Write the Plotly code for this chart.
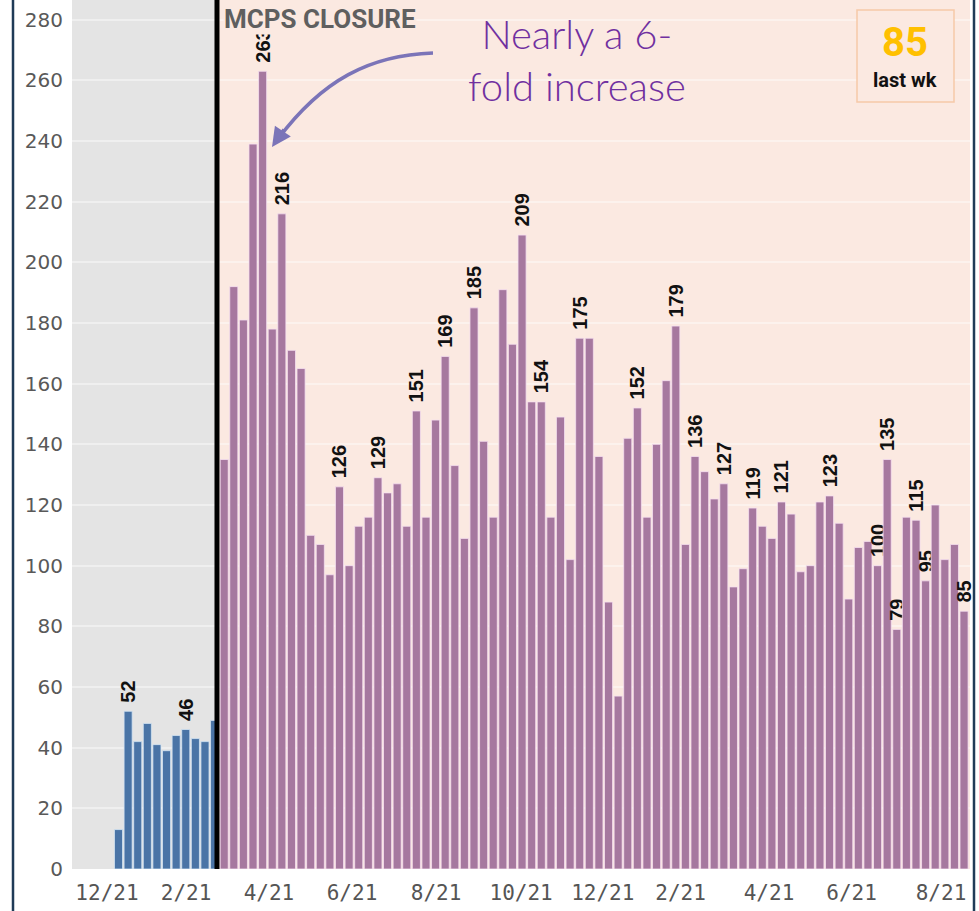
import plotly.graph_objects as go

# ---------------- data ----------------
blue_values = [13, 52, 42, 48, 41, 39, 44, 46, 43, 42, 49]
purple_values = [135, 192, 181, 239, 263, 178, 216, 171, 165, 110,
                 107, 97, 126, 100, 113, 116, 129, 124, 127, 113,
                 151, 116, 148, 169, 133, 109, 185, 141, 116, 191,
                 173, 209, 154, 154, 116, 149, 102, 175, 175, 136,
                 88, 57, 142, 152, 116, 140, 161, 179, 107, 136,
                 131, 122, 127, 93, 99, 119, 113, 109, 121, 117,
                 98, 100, 121, 123, 114, 89, 106, 108, 100, 135,
                 79, 116, 115, 95, 120, 102, 107, 85]
blue_labeled = [1, 7]
purple_labeled = [4, 6, 12, 16, 20, 23, 26, 31, 33, 37, 43, 47, 49, 52, 55,
                  58, 63, 68, 69, 70, 72, 73, 77]
tick_labels = ['12/21', '2/21', '4/21', '6/21', '8/21', '10/21', '12/21',
               '2/21', '4/21', '6/21', '8/21']
tick_pos = [-1.2, 7.03, 15.66, 24.3, 33.05, 41.9, 50.4, 58.5, 67.7, 76.3, 85.6]
last_week = purple_values[-1]

# ---------------- layout constants ----------------
W, H = 979, 911
ML, MR, MT, MB = 72, 9, 0, 42
PW, PH = W - ML - MR, H - MT - MB
X_RANGE = [-4.84, 88.62]
Y_RANGE = [0, 286.5]
closure_x = len(blue_values) - 0.75


def px(x):
    return (x - ML) / PW


def py(y):
    return (H - MB - y) / PH


blue_x = list(range(len(blue_values)))
purple_x = list(range(len(blue_values), len(blue_values) + len(purple_values)))
NB = "\u00a0"
blue_text = [NB + str(v) if i in blue_labeled else "" for i, v in enumerate(blue_values)]
purple_text = [NB + str(v) if i in purple_labeled else "" for i, v in enumerate(purple_values)]

label_font = dict(family="Liberation Sans, Arial, sans-serif", size=20,
                  color="#111111", weight="bold")
cond = "Liberation Sans Narrow, Arial Narrow, Roboto, sans-serif"

fig = go.Figure()
fig.add_trace(go.Bar(
    x=blue_x, y=blue_values, text=blue_text, width=0.84,
    marker=dict(color="#4a74a6", line=dict(color="#d4e4f4", width=0.8)),
    textposition="outside", textangle=-90, textfont=label_font,
    constraintext="none", cliponaxis=False, hoverinfo="x+y",
))
fig.add_trace(go.Bar(
    x=purple_x, y=purple_values, text=purple_text, width=0.84,
    marker=dict(color="#a6789f", line=dict(color="#f6e0f0", width=0.8)),
    textposition="outside", textangle=-90, textfont=label_font,
    constraintext="none", cliponaxis=False, hoverinfo="x+y",
))

shapes = [
    dict(type="rect", xref="x", yref="paper", x0=X_RANGE[0], x1=closure_x,
         y0=0, y1=1, fillcolor="#e4e4e4", line=dict(width=0), layer="below"),
    dict(type="rect", xref="x", yref="paper", x0=closure_x, x1=X_RANGE[1],
         y0=0, y1=1, fillcolor="#fbe9e1", line=dict(width=0), layer="below"),
    dict(type="line", xref="x", yref="paper", x0=closure_x, x1=closure_x,
         y0=0, y1=1, line=dict(color="#000000", width=5), layer="above"),
    # frame borders
    dict(type="line", xref="paper", yref="paper", x0=px(13), x1=px(13),
         y0=py(H), y1=py(0), line=dict(color="#1f3b57", width=2.5)),
    dict(type="line", xref="paper", yref="paper", x0=px(974), x1=px(974),
         y0=py(H), y1=py(0), line=dict(color="#1f3b57", width=2.5)),
    # last week box
    dict(type="rect", xref="paper", yref="paper", x0=px(857), x1=px(954),
         y0=py(102), y1=py(10), fillcolor="#fbe9e1",
         line=dict(color="#f6c9a8", width=1.5), layer="above"),
    # curved arrow
    dict(type="path", xref="paper", yref="paper",
         path=f"M {px(433)},{py(53)} C {px(370)},{py(55)} {px(322)},{py(80)} {px(278)},{py(139)}",
         line=dict(color="#7b74b8", width=3.5), layer="above"),
]

annotations = [
    dict(xref="paper", yref="paper", x=px(223), y=py(3), xanchor="left", yanchor="top",
         text="<b>MCPS CLOSURE</b>", showarrow=False, bgcolor="#fbe9e1", borderpad=0,
         font=dict(family=cond, size=26, color="#5f5f5f")),
    dict(xref="paper", yref="paper", x=px(905), y=py(43), xanchor="center", yanchor="middle",
         text=f"<b>{last_week}</b>", showarrow=False,
         font=dict(family=cond, size=40, color="#ffc000")),
    dict(xref="paper", yref="paper", x=px(905), y=py(80), xanchor="center", yanchor="middle",
         text="<b>last wk</b>", showarrow=False,
         font=dict(family=cond, size=20, color="#111111")),
    dict(xref="paper", yref="paper", x=px(577), y=py(60), xanchor="center", yanchor="middle",
         text="Nearly a 6-<br>fold increase", showarrow=False,
         font=dict(family="Lato, Noto Sans, sans-serif", size=40, color="#7030a0",
                   weight=300)),
    # arrow head
    dict(xref="paper", yref="paper", x=px(272), y=py(147), text="", showarrow=True,
         axref="pixel", ayref="pixel", ax=13, ay=-19, arrowhead=2, arrowsize=1.1,
         arrowwidth=3.5, arrowcolor="#7b74b8", standoff=0),
]

fig.update_layout(
    width=W, height=H,
    margin=dict(l=ML, r=MR, t=MT, b=MB),
    paper_bgcolor="#ffffff", plot_bgcolor="#ffffff",
    barmode="overlay", showlegend=False,
    shapes=shapes, annotations=annotations,
    xaxis=dict(range=X_RANGE, tickmode="array", tickvals=tick_pos, ticktext=tick_labels,
               showgrid=False, zeroline=False, showline=False, ticks="",
               ticklabelstandoff=9,
               tickfont=dict(family="DejaVu Sans Mono, monospace", size=21, color="#555555")),
    yaxis=dict(range=Y_RANGE, dtick=20, tick0=0, showgrid=True,
               gridcolor="rgba(255,255,255,0.4)", gridwidth=1.5,
               zeroline=False, showline=False, ticks="", ticklabelstandoff=8,
               tickfont=dict(family="DejaVu Sans, sans-serif", size=20, color="#595959")),
)

fig.write_html("out.html", config={"displayModeBar": False},
               post_script="document.body.style.margin='0';")
